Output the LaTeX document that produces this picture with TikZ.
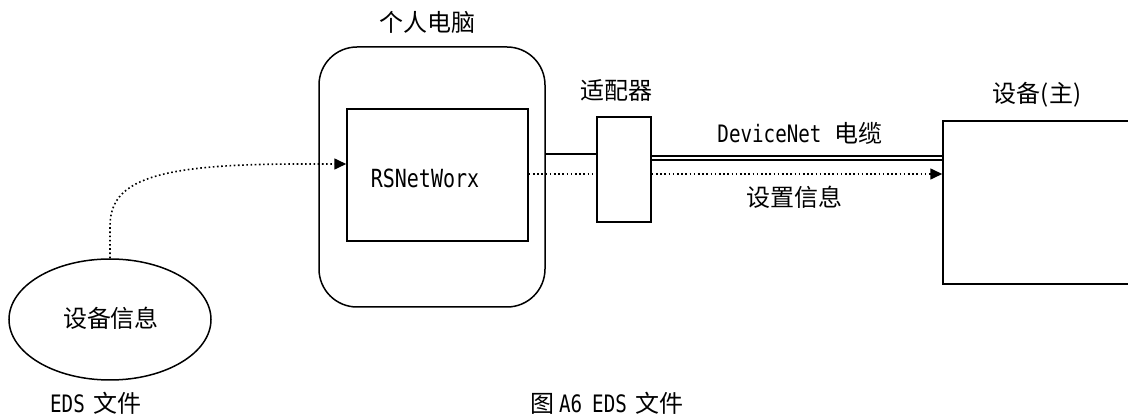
\documentclass[tikz,border=0pt]{standalone}
\usepackage{fontspec}
\setmainfont{Noto Sans CJK SC}
\newfontfamily\lat[FakeStretch=0.8]{DejaVu Sans Mono}
\usetikzlibrary{shapes.geometric,arrows.meta,calc}
\newcommand\wgap{\hspace{9pt}}
\tikzset{
  box/.style={draw, line width=1.5pt, inner sep=0pt, fill=white},
  txt/.style={inner sep=0pt, font=\fontsize{24}{28}\selectfont},
  ltxt/.style={inner sep=0pt, font=\fontsize{25}{28}\selectfont\lat},
  conn/.style={line width=1.5pt},
  dotline/.style={line width=1.6pt, dash pattern=on 1.6pt off 2.6pt},
  tip/.style={-{Triangle[length=12pt,width=11pt]}},
}
\begin{document}
\begin{tikzpicture}[x=1pt,y=-1pt]
\useasboundingbox (0,0) rectangle (1128,419);
\clip (0,0) rectangle (1128,419);
% helper coordinates (rows)
\coordinate (r1) at (0,154);
\coordinate (r2) at (0,158);
\coordinate (r3) at (0,174);
\coordinate (r4) at (0,164);
% PC
\node[box, rounded corners=38pt, minimum width=226pt, minimum height=260pt] (pc) at (432,177) {};
\node[box, minimum width=181pt, minimum height=132pt] (rs) at (437.5,175) {};
\node[ltxt] (rst) at (425,178) {RSNetWorx};
\node[txt] (pcl) at (427,22) {个人电脑};
% adapter
\node[box, minimum width=54pt, minimum height=105pt] (ad) at (624,169.5) {};
\node[txt] (adl) at (616,90) {适配器};
% device
\node[box, minimum width=200pt, minimum height=163pt] (dev) at (1043,202.5) {};
\node[txt] (devl) at (1037,95) {设备(主)};
% EDS ellipse
\node[draw, ellipse, line width=1.5pt, minimum width=202pt, minimum height=121pt, inner sep=0pt] (ell) at (110,319.5) {};
\node[txt] (elt) at (111,318) {设备信息};
\node[txt] (edsl) at (96,403) {{\lat EDS}\wgap 文件};
% cable labels
\node[txt] (cabl) at (800,133) {{\lat DeviceNet}\hspace{13pt}电缆};
\node[txt] (setl) at (794,197) {设置信息};
\node[txt] (cap) at (607,403) {图\hspace{5pt}{\lat A6}\hspace{10pt}{\lat EDS}\wgap 文件};
% connectors
\draw[conn] (pc.east |- r1) -- (ad.west |- r1);
\draw[line width=1.5pt, double, double distance=2.6pt] (ad.east |- r2) -- (dev.west |- r2);
\draw[dotline] (rs.east |- r3) -- (ad.west |- r3);
\draw[dotline, tip] (ad.east |- r3) -- (dev.west |- r3);
\draw[dotline, tip] (ell.north) -- ++(0,-32) .. controls (110,180) and (155,164) .. (300,164) -- (rs.west |- r4);
\end{tikzpicture}
\end{document}
